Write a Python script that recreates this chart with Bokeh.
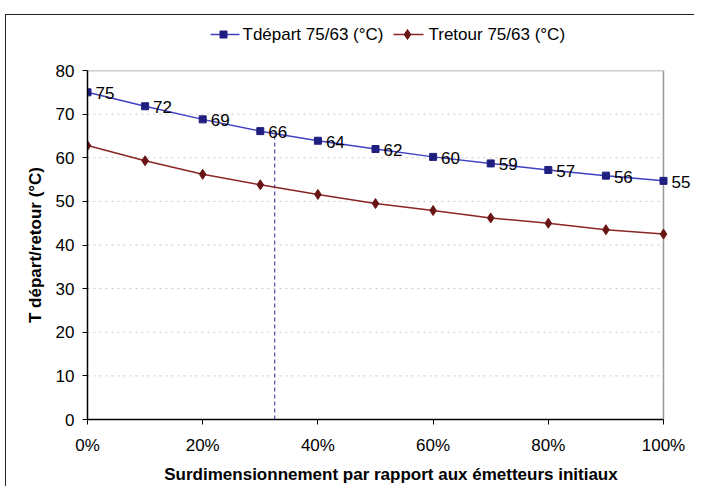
from bokeh.plotting import figure
from bokeh.models import ColumnDataSource, FixedTicker, Range1d
from bokeh.layouts import column
from bokeh.core.properties import value
from bokeh.embed import file_html
from bokeh.resources import INLINE

# data
surdim = [0.0, 0.1, 0.2, 0.3, 0.4, 0.5, 0.6, 0.7, 0.8, 0.9, 1.0]
t_depart = [75.0, 71.8, 68.8, 66.1, 63.9, 62.0, 60.2, 58.7, 57.2, 55.9, 54.7]
t_retour = [62.8, 59.3, 56.2, 53.8, 51.6, 49.5, 47.9, 46.2, 45.0, 43.5, 42.5]
depart_labels = [str(int(round(v))) for v in t_depart]
series_names = ["Tdépart 75/63 (°C)", "Tretour 75/63 (°C)"]
marker_x = 0.325
marker_top = 65.3
x_ticks = [0.0, 0.2, 0.4, 0.6, 0.8, 1.0]
x_tick_labels = ["0%", "20%", "40%", "60%", "80%", "100%"]
y_ticks = [0, 10, 20, 30, 40, 50, 60, 70, 80]
grid_levels = [10, 20, 30, 40, 50, 60, 70]

FONT = "Liberation Sans"
FS = "17px"
C_DEP_LINE, C_DEP_MARK = "#4040c0", "#1f1f80"
C_RET_LINE, C_RET_MARK = "#8a2525", "#6a1515"

W = 688
LEG_H = 37
MAIN_H = 434
BORDER_L = 81
PLOT_W_PX = 576           # width of the 0..100 % area
X_END = 1 + (W - BORDER_L - PLOT_W_PX) / PLOT_W_PX  # room on the right for the last label

# ---------------- legend strip (frame aligned with main frame) ----------------
OFF_X = 6   # page x of the layout content
leg = figure(width=W, height=LEG_H, output_backend="svg", toolbar_location=None,
             x_range=Range1d(OFF_X + BORDER_L, OFF_X + W), y_range=Range1d(LEG_H, 0),
             min_border_left=BORDER_L, min_border_right=0, min_border_top=0, min_border_bottom=0,
             x_axis_type=None, y_axis_type=None)
leg.grid.visible = False
leg.outline_line_color = None
leg.background_fill_color = "white"
leg.border_fill_color = "white"
ly = 19
leg.segment(x0=[210], y0=[ly], x1=[239], y1=[ly], line_color=C_DEP_LINE, line_width=1.5)
leg.scatter(x=[223], y=[ly], marker="square", size=7, fill_color=C_DEP_MARK, line_color=C_DEP_MARK)
leg.text(x=[242], y=[ly], text=[series_names[0]], text_font=value(FONT), text_font_size=FS,
         text_color="black", text_baseline="middle", text_align="left")
leg.segment(x0=[393], y0=[ly], x1=[423], y1=[ly], line_color=C_RET_LINE, line_width=1.5)
leg.scatter(x=[407], y=[ly], marker="diamond", size=10, fill_color=C_RET_MARK, line_color=C_RET_MARK)
leg.text(x=[428], y=[ly], text=[series_names[1]], text_font=value(FONT), text_font_size=FS,
         text_color="black", text_baseline="middle", text_align="left")

# ---------------- main chart ----------------
src_d = ColumnDataSource(dict(x=surdim, y=t_depart, lab=depart_labels))
src_r = ColumnDataSource(dict(x=surdim, y=t_retour))

p = figure(width=W, height=MAIN_H, output_backend="svg", toolbar_location=None,
           x_range=Range1d(0, X_END), y_range=Range1d(0, 80),
           min_border_left=BORDER_L, min_border_right=0, min_border_top=18, min_border_bottom=66)

p.background_fill_color = "white"
p.border_fill_color = "white"
p.outline_line_color = None
p.grid.visible = False

# plot-area grid and border (limited to 0..100 %)
p.segment(x0=[0] * len(grid_levels), y0=grid_levels, x1=[1] * len(grid_levels), y1=grid_levels,
          line_color="#c8c8c8", line_dash="2 4", line_width=1)
p.segment(x0=[0, 1], y0=[80, 0], x1=[1, 1], y1=[80, 80], line_color="#999999", line_width=1.5)

p.xaxis.ticker = FixedTicker(ticks=x_ticks)
p.xaxis.major_label_overrides = {t: l for t, l in zip(x_ticks, x_tick_labels)}
p.xaxis.bounds = (0, 1)
p.yaxis.ticker = FixedTicker(ticks=y_ticks)
for ax in (p.xaxis[0], p.yaxis[0]):
    ax.axis_line_color = "black"
    ax.axis_line_width = 1.5
    ax.major_tick_line_color = "black"
    ax.major_tick_out = 5
    ax.major_tick_in = 0
    ax.minor_tick_line_color = None
    ax.major_label_text_font = FONT
    ax.major_label_text_font_size = FS
    ax.major_label_text_color = "black"
    ax.axis_label_text_font = FONT
    ax.axis_label_text_font_size = FS
    ax.axis_label_text_font_style = "bold"
    ax.axis_label_text_color = "black"
p.xaxis.axis_label = "Surdimensionnement par rapport aux émetteurs initiaux"
p.yaxis.axis_label = "T départ/retour (°C)"
p.xaxis.major_label_standoff = 11
p.xaxis.axis_label_standoff = 7
p.yaxis.major_label_standoff = 8
p.yaxis.axis_label_standoff = 8

p.segment(x0=[marker_x], y0=[0], x1=[marker_x], y1=[marker_top],
          line_color="#4a4aa8", line_dash="4 3", line_width=1.2)

p.line("x", "y", source=src_d, line_color=C_DEP_LINE, line_width=1.5)
p.scatter("x", "y", source=src_d, marker="square", size=7,
          fill_color=C_DEP_MARK, line_color=C_DEP_MARK)
p.line("x", "y", source=src_r, line_color=C_RET_LINE, line_width=1.5)
p.scatter("x", "y", source=src_r, marker="diamond", size=10,
          fill_color=C_RET_MARK, line_color=C_RET_MARK)

p.text("x", "y", text="lab", source=src_d, x_offset=8, y_offset=1,
       text_font=value(FONT), text_font_size=FS, text_color="black",
       text_baseline="middle", text_align="left")

layout = column(leg, p, spacing=0)
layout.margin = (14, 0, 0, 5)
layout.styles = {"border-top": "1px solid #222222", "border-left": "1px solid #222222"}

open("out.html", "w").write(file_html(layout, INLINE))
